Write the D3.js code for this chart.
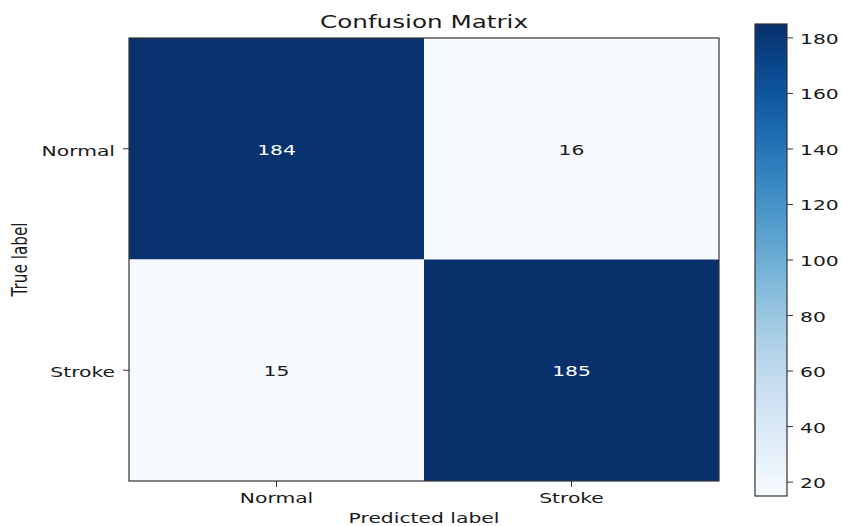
<!DOCTYPE html>
<html>
<head>
<meta charset="utf-8">
<script src="https://cdn.jsdelivr.net/npm/d3@7"></script>
<style>
  body { margin: 0; background: #fff; }
  svg { display: block; }
  text { font-family: "DejaVu Sans", sans-serif; fill: #1a1a1a; }
</style>
</head>
<body>
<svg id="chart" width="843" height="526"></svg>
<script>
// Confusion matrix data
const classNames = ["Normal", "Stroke"];
const trueLabels = ["Normal", "Normal", "Stroke", "Stroke"];
const predLabels = ["Normal", "Stroke", "Normal", "Stroke"];
const counts = [184, 16, 15, 185];
const colorbarTicks = [20, 40, 60, 80, 100, 120, 140, 160, 180];

const W = 843, H = 526;
const plot = { left: 129, right: 719, top: 38, bottom: 481 };
const cbar = { left: 755, right: 787, top: 24, bottom: 496 };
const SX = 1.45, SY = 1.05; // wide glyph aspect

const svg = d3.select("#chart");

const cells = counts.map((v, i) => ({ t: trueLabels[i], p: predLabels[i], v }));
const vmin = d3.min(counts), vmax = d3.max(counts);

const x = d3.scaleBand().domain(classNames).range([plot.left, plot.right]);
const y = d3.scaleBand().domain(classNames).range([plot.top, plot.bottom]);
const color = d3.scaleSequential(d3.interpolateBlues).domain([vmin, vmax]);

// helper for stretched text
function label(g, tx, ty, str, opts = {}) {
  const rot = opts.rotate ? ` rotate(${opts.rotate})` : "";
  return g.append("text")
    .attr("transform", `translate(${tx},${ty}) scale(${SX},${SY})${rot}`)
    .attr("text-anchor", opts.anchor || "middle")
    .attr("dominant-baseline", "central")
    .style("font-size", (opts.size || 14) + "px")
    .style("fill", opts.fill || "#1a1a1a")
    .text(str);
}

// heatmap cells
svg.append("g").selectAll("rect").data(cells).join("rect")
  .attr("x", d => x(d.p))
  .attr("y", d => y(d.t))
  .attr("width", x.bandwidth())
  .attr("height", y.bandwidth())
  .attr("fill", d => color(d.v));

// cell annotations
const thresh = (vmin + vmax) / 2;
const ann = svg.append("g");
cells.forEach(d => {
  label(ann, x(d.p) + x.bandwidth() / 2, y(d.t) + y.bandwidth() / 2 + 1, d.v,
        { fill: d.v > thresh ? "#ffffff" : "#1a1a1a" });
});

// frame
svg.append("rect")
  .attr("x", plot.left).attr("y", plot.top)
  .attr("width", plot.right - plot.left).attr("height", plot.bottom - plot.top)
  .attr("fill", "none").attr("stroke", "#333").attr("stroke-width", 1.2);

// x ticks
const xt = svg.append("g");
classNames.forEach(c => {
  const cx = x(c) + x.bandwidth() / 2;
  xt.append("line").attr("x1", cx).attr("x2", cx)
    .attr("y1", plot.bottom).attr("y2", plot.bottom + 6)
    .attr("stroke", "#333").attr("stroke-width", 1);
  label(xt, cx, 498, c);
});
// y ticks
const yt = svg.append("g");
classNames.forEach(c => {
  const cy = y(c) + y.bandwidth() / 2;
  yt.append("line").attr("x1", plot.left - 6).attr("x2", plot.left)
    .attr("y1", cy).attr("y2", cy)
    .attr("stroke", "#333").attr("stroke-width", 1);
  label(yt, plot.left - 14, cy + 2, c, { anchor: "end" });
});

// titles
label(svg, (plot.left + plot.right) / 2, 22, "Confusion Matrix", { size: 17 });
label(svg, (plot.left + plot.right) / 2, 518, "Predicted label");
label(svg, 20, (plot.top + plot.bottom) / 2, "True label", { rotate: -90, size: 14.5 });

// colorbar
const cy = d3.scaleLinear().domain([vmin, vmax]).range([cbar.bottom, cbar.top]);
const defs = svg.append("defs");
const grad = defs.append("linearGradient").attr("id", "cbgrad")
  .attr("x1", 0).attr("y1", 1).attr("x2", 0).attr("y2", 0);
d3.range(0, 1.0001, 0.05).forEach(t => {
  grad.append("stop").attr("offset", t).attr("stop-color", color(vmin + t * (vmax - vmin)));
});
svg.append("rect")
  .attr("x", cbar.left).attr("y", cbar.top)
  .attr("width", cbar.right - cbar.left).attr("height", cbar.bottom - cbar.top)
  .attr("fill", "url(#cbgrad)")
  .attr("stroke", "#333").attr("stroke-width", 1.2);

const cbt = svg.append("g");
colorbarTicks.forEach(v => {
  const ty = cy(v);
  cbt.append("line").attr("x1", cbar.right).attr("x2", cbar.right + 6)
    .attr("y1", ty).attr("y2", ty).attr("stroke", "#333").attr("stroke-width", 1);
  label(cbt, cbar.right + 13, ty + 1, v, { anchor: "start" });
});
</script>
</body>
</html>
